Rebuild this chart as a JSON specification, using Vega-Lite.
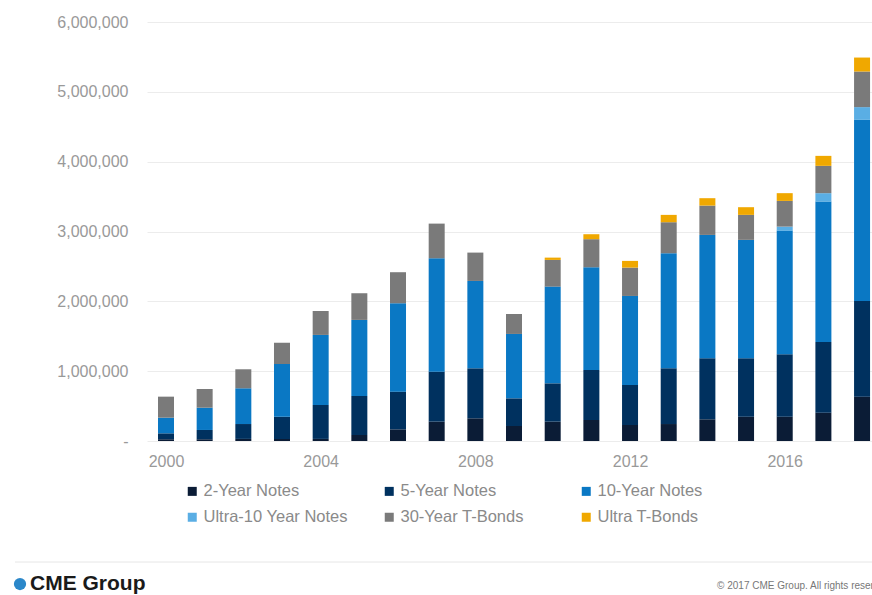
{
  "$schema": "https://vega.github.io/schema/vega-lite/v6.json",
  "width": 725,
  "height": 419,
  "autosize": {"type": "none"},
  "padding": {"left": 147, "top": 22, "right": 0, "bottom": 154},
  "background": "white",
  "config": {
    "font": "Liberation Sans",
    "view": {"stroke": null}
  },
  "layer": [
    {
      "data": {
        "values": [
          {"year": 2000, "series": "2-Year Notes", "k": 1, "value": 25000},
          {"year": 2000, "series": "5-Year Notes", "k": 2, "value": 85000},
          {"year": 2000, "series": "10-Year Notes", "k": 3, "value": 224000},
          {"year": 2000, "series": "30-Year T-Bonds", "k": 5, "value": 301000},
          {"year": 2001, "series": "2-Year Notes", "k": 1, "value": 25000},
          {"year": 2001, "series": "5-Year Notes", "k": 2, "value": 133000},
          {"year": 2001, "series": "10-Year Notes", "k": 3, "value": 319000},
          {"year": 2001, "series": "30-Year T-Bonds", "k": 5, "value": 268000},
          {"year": 2002, "series": "2-Year Notes", "k": 1, "value": 30000},
          {"year": 2002, "series": "5-Year Notes", "k": 2, "value": 213000},
          {"year": 2002, "series": "10-Year Notes", "k": 3, "value": 512000},
          {"year": 2002, "series": "30-Year T-Bonds", "k": 5, "value": 272000},
          {"year": 2003, "series": "2-Year Notes", "k": 1, "value": 30000},
          {"year": 2003, "series": "5-Year Notes", "k": 2, "value": 318000},
          {"year": 2003, "series": "10-Year Notes", "k": 3, "value": 755000},
          {"year": 2003, "series": "30-Year T-Bonds", "k": 5, "value": 305000},
          {"year": 2004, "series": "2-Year Notes", "k": 1, "value": 30000},
          {"year": 2004, "series": "5-Year Notes", "k": 2, "value": 486000},
          {"year": 2004, "series": "10-Year Notes", "k": 3, "value": 1003000},
          {"year": 2004, "series": "30-Year T-Bonds", "k": 5, "value": 343000},
          {"year": 2005, "series": "2-Year Notes", "k": 1, "value": 86000},
          {"year": 2005, "series": "5-Year Notes", "k": 2, "value": 559000},
          {"year": 2005, "series": "10-Year Notes", "k": 3, "value": 1089000},
          {"year": 2005, "series": "30-Year T-Bonds", "k": 5, "value": 382000},
          {"year": 2006, "series": "2-Year Notes", "k": 1, "value": 167000},
          {"year": 2006, "series": "5-Year Notes", "k": 2, "value": 540000},
          {"year": 2006, "series": "10-Year Notes", "k": 3, "value": 1266000},
          {"year": 2006, "series": "30-Year T-Bonds", "k": 5, "value": 444000},
          {"year": 2007, "series": "2-Year Notes", "k": 1, "value": 277000},
          {"year": 2007, "series": "5-Year Notes", "k": 2, "value": 716000},
          {"year": 2007, "series": "10-Year Notes", "k": 3, "value": 1624000},
          {"year": 2007, "series": "30-Year T-Bonds", "k": 5, "value": 496000},
          {"year": 2008, "series": "2-Year Notes", "k": 1, "value": 325000},
          {"year": 2008, "series": "5-Year Notes", "k": 2, "value": 716000},
          {"year": 2008, "series": "10-Year Notes", "k": 3, "value": 1251000},
          {"year": 2008, "series": "30-Year T-Bonds", "k": 5, "value": 406000},
          {"year": 2009, "series": "2-Year Notes", "k": 1, "value": 215000},
          {"year": 2009, "series": "5-Year Notes", "k": 2, "value": 396000},
          {"year": 2009, "series": "10-Year Notes", "k": 3, "value": 922000},
          {"year": 2009, "series": "30-Year T-Bonds", "k": 5, "value": 286000},
          {"year": 2010, "series": "2-Year Notes", "k": 1, "value": 277000},
          {"year": 2010, "series": "5-Year Notes", "k": 2, "value": 549000},
          {"year": 2010, "series": "10-Year Notes", "k": 3, "value": 1385000},
          {"year": 2010, "series": "30-Year T-Bonds", "k": 5, "value": 382000},
          {"year": 2010, "series": "Ultra T-Bonds", "k": 6, "value": 33000},
          {"year": 2011, "series": "2-Year Notes", "k": 1, "value": 301000},
          {"year": 2011, "series": "5-Year Notes", "k": 2, "value": 716000},
          {"year": 2011, "series": "10-Year Notes", "k": 3, "value": 1471000},
          {"year": 2011, "series": "30-Year T-Bonds", "k": 5, "value": 402000},
          {"year": 2011, "series": "Ultra T-Bonds", "k": 6, "value": 71000},
          {"year": 2012, "series": "2-Year Notes", "k": 1, "value": 229000},
          {"year": 2012, "series": "5-Year Notes", "k": 2, "value": 573000},
          {"year": 2012, "series": "10-Year Notes", "k": 3, "value": 1275000},
          {"year": 2012, "series": "30-Year T-Bonds", "k": 5, "value": 406000},
          {"year": 2012, "series": "Ultra T-Bonds", "k": 6, "value": 96000},
          {"year": 2013, "series": "2-Year Notes", "k": 1, "value": 243000},
          {"year": 2013, "series": "5-Year Notes", "k": 2, "value": 798000},
          {"year": 2013, "series": "10-Year Notes", "k": 3, "value": 1648000},
          {"year": 2013, "series": "30-Year T-Bonds", "k": 5, "value": 444000},
          {"year": 2013, "series": "Ultra T-Bonds", "k": 6, "value": 105000},
          {"year": 2014, "series": "2-Year Notes", "k": 1, "value": 311000},
          {"year": 2014, "series": "5-Year Notes", "k": 2, "value": 874000},
          {"year": 2014, "series": "10-Year Notes", "k": 3, "value": 1766000},
          {"year": 2014, "series": "30-Year T-Bonds", "k": 5, "value": 420000},
          {"year": 2014, "series": "Ultra T-Bonds", "k": 6, "value": 106000},
          {"year": 2015, "series": "2-Year Notes", "k": 1, "value": 348000},
          {"year": 2015, "series": "5-Year Notes", "k": 2, "value": 837000},
          {"year": 2015, "series": "10-Year Notes", "k": 3, "value": 1695000},
          {"year": 2015, "series": "30-Year T-Bonds", "k": 5, "value": 358000},
          {"year": 2015, "series": "Ultra T-Bonds", "k": 6, "value": 110000},
          {"year": 2016, "series": "2-Year Notes", "k": 1, "value": 348000},
          {"year": 2016, "series": "5-Year Notes", "k": 2, "value": 894000},
          {"year": 2016, "series": "10-Year Notes", "k": 3, "value": 1767000},
          {"year": 2016, "series": "Ultra-10 Year Notes", "k": 4, "value": 61000},
          {"year": 2016, "series": "30-Year T-Bonds", "k": 5, "value": 368000},
          {"year": 2016, "series": "Ultra T-Bonds", "k": 6, "value": 111000},
          {"year": 2017, "series": "2-Year Notes", "k": 1, "value": 405000},
          {"year": 2017, "series": "5-Year Notes", "k": 2, "value": 1013000},
          {"year": 2017, "series": "10-Year Notes", "k": 3, "value": 2010000},
          {"year": 2017, "series": "Ultra-10 Year Notes", "k": 4, "value": 121000},
          {"year": 2017, "series": "30-Year T-Bonds", "k": 5, "value": 391000},
          {"year": 2017, "series": "Ultra T-Bonds", "k": 6, "value": 143000},
          {"year": 2018, "series": "2-Year Notes", "k": 1, "value": 635000},
          {"year": 2018, "series": "5-Year Notes", "k": 2, "value": 1371000},
          {"year": 2018, "series": "10-Year Notes", "k": 3, "value": 2593000},
          {"year": 2018, "series": "Ultra-10 Year Notes", "k": 4, "value": 182000},
          {"year": 2018, "series": "30-Year T-Bonds", "k": 5, "value": 510000},
          {"year": 2018, "series": "Ultra T-Bonds", "k": 6, "value": 200000}
        ]
      },
      "mark": {"type": "bar", "size": 16},
      "encoding": {
        "x": {
          "field": "year",
          "type": "quantitative",
          "scale": {"domain": [1999.509, 2018.257], "nice": false, "zero": false, "padding": 0},
          "axis": {
            "values": [2000, 2004, 2008, 2012, 2016],
            "format": "d",
            "title": null,
            "grid": false,
            "domain": false,
            "ticks": false,
            "tickSize": 0,
            "labelPadding": 12,
            "labelFontSize": 16,
            "labelColor": "#999999",
            "labelFont": "Liberation Sans"
          }
        },
        "y": {
          "field": "value",
          "type": "quantitative",
          "aggregate": "sum",
          "stack": "zero",
          "scale": {"domain": [0, 6000000], "nice": false, "padding": 0},
          "axis": {
            "values": [0, 1000000, 2000000, 3000000, 4000000, 5000000, 6000000],
            "labelExpr": "datum.value == 0 ? '-' : format(datum.value, ',')",
            "title": null,
            "domain": false,
            "ticks": false,
            "tickSize": 0,
            "labelPadding": 19,
            "labelFontSize": 16,
            "labelColor": "#999999",
            "gridColor": "#ececec",
            "gridWidth": 1
          }
        },
        "color": {
          "field": "series",
          "type": "nominal",
          "sort": ["2-Year Notes", "5-Year Notes", "10-Year Notes", "Ultra-10 Year Notes", "30-Year T-Bonds", "Ultra T-Bonds"],
          "scale": {
            "domain": ["2-Year Notes", "5-Year Notes", "10-Year Notes", "Ultra-10 Year Notes", "30-Year T-Bonds", "Ultra T-Bonds"],
            "range": ["#0b1c36", "#00315f", "#0a78c4", "#5aaee4", "#7a7a7a", "#f0a800"]
          },
          "legend": {
            "title": null,
            "orient": "none",
            "legendX": 37,
            "legendY": 461,
            "direction": "horizontal",
            "columns": 3,
            "gridAlign": "all",
            "columnPadding": 33,
            "rowPadding": 9,
            "symbolType": "square",
            "symbolSize": 81,
            "symbolStrokeWidth": 0,
            "labelFontSize": 16.5,
            "labelColor": "#8a8a8a",
            "labelOffset": 3,
            "padding": 0
          }
        },
        "order": {"field": "k", "type": "quantitative", "sort": "ascending"}
      }
    },
    {
      "data": {"values": [{"a": 1}]},
      "mark": {"type": "rule", "color": "#e6e6e6", "strokeWidth": 1},
      "encoding": {
        "x": {"datum": 1996.095, "type": "quantitative"},
        "x2": {"datum": 2018.257},
        "y": {"datum": -1732800, "type": "quantitative"}
      }
    },
    {
      "data": {"values": [{"a": 1}]},
      "mark": {"type": "point", "filled": true, "color": "#2b87c9", "opacity": 1, "size": 150},
      "encoding": {
        "x": {"datum": 1996.225, "type": "quantitative"},
        "y": {"datum": -2047800, "type": "quantitative"}
      }
    },
    {
      "data": {"values": [{"t": "CME Group"}]},
      "mark": {"type": "text", "align": "left", "baseline": "middle", "font": "Liberation Sans", "fontSize": 21, "fontWeight": "bold", "color": "#1a1a1a"},
      "encoding": {
        "x": {"datum": 1996.483, "type": "quantitative"},
        "y": {"datum": -2047800, "type": "quantitative"},
        "text": {"field": "t"}
      }
    },
    {
      "data": {"values": [{"t": "© 2017 CME Group. All rights reserved."}]},
      "mark": {"type": "text", "align": "left", "baseline": "middle", "font": "Liberation Sans", "fontSize": 10, "color": "#777777"},
      "encoding": {
        "x": {"datum": 2014.25, "type": "quantitative"},
        "y": {"datum": -2076500, "type": "quantitative"},
        "text": {"field": "t"}
      }
    }
  ]
}
